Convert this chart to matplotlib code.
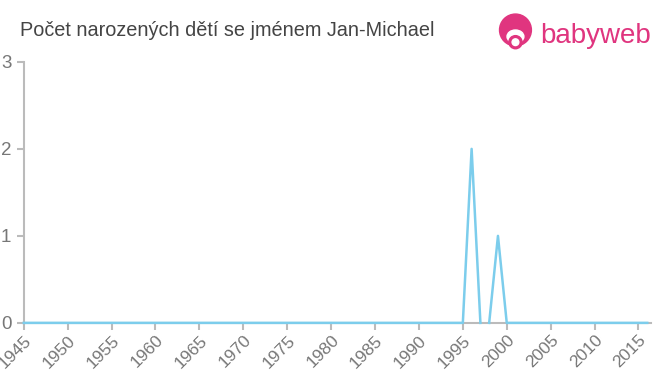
import numpy as np
import matplotlib
matplotlib.use("Agg")
import matplotlib.pyplot as plt
from matplotlib.patches import Circle, Ellipse

plt.rcParams['font.family'] = ['Liberation Sans', 'DejaVu Sans']

# Data
years = list(range(1945, 2017))
counts = [0] * len(years)
counts[years.index(1996)] = 2
counts[years.index(1999)] = 1
break_after = 1997  # no segment drawn between 1997 and 1998

x_ticks = list(range(1945, 2020, 5))
y_ticks = [0, 1, 2, 3]

LINE = '#7ccdec'
AXIS = '#bbbbbb'
TEXT = '#777777'
PINK = '#e0357f'

fig = plt.figure(figsize=(6.6, 3.75), dpi=100)
ax = fig.add_axes([0.036, 0.139, 0.950, 0.696])

yrs = np.array(years)
cnt = np.array(counts)
m1 = yrs <= break_after
m2 = yrs > break_after
ax.plot(yrs[m1], cnt[m1], c=LINE, lw=1.8, zorder=3, clip_on=False)
ax.plot(yrs[m2], cnt[m2], c=LINE, lw=1.8, zorder=3, clip_on=False)

ax.set_xlim(1945, 2016.4)
ax.set_ylim(0, 3)
ax.set_xticks(x_ticks)
ax.set_xticklabels([str(x) for x in x_ticks], rotation=45, ha='right',
                   rotation_mode='anchor', fontsize=12.5, color=TEXT)
ax.set_yticks(y_ticks)
ax.set_yticklabels([str(y) for y in y_ticks], fontsize=13.5, color=TEXT)
ax.tick_params(axis='both', color=AXIS, length=5, width=1.5)
ax.tick_params(axis='x', pad=2)
ax.tick_params(axis='y', pad=4)
for s in ['top', 'right']:
    ax.spines[s].set_visible(False)
for s in ['left', 'bottom']:
    ax.spines[s].set_color(AXIS)
    ax.spines[s].set_linewidth(1.5)
    ax.spines[s].set_zorder(2)

fig.text(0.03, 0.918, 'Počet narozených dětí se jménem Jan-Michael',
         fontsize=14.3, color='#444444', va='center', ha='left')

# babyweb logo
fig.text(0.818, 0.905, 'babyweb', fontsize=20, color=PINK, va='center', ha='left')
lax = fig.add_axes([0.752, 0.865, 0.058, 0.1])
lax.set_xlim(-1, 1)
lax.set_ylim(-1, 1)
lax.set_aspect('equal')
lax.axis('off')
lax.add_patch(Circle((0, 0.1), 0.85, color=PINK))
lax.add_patch(Ellipse((0, -0.25), 0.9, 0.7, color='white'))
lax.add_patch(Circle((0, -0.55), 0.35, color=PINK))
lax.add_patch(Circle((0, -0.55), 0.18, color='white'))

fig.savefig('out.png', dpi=100)
